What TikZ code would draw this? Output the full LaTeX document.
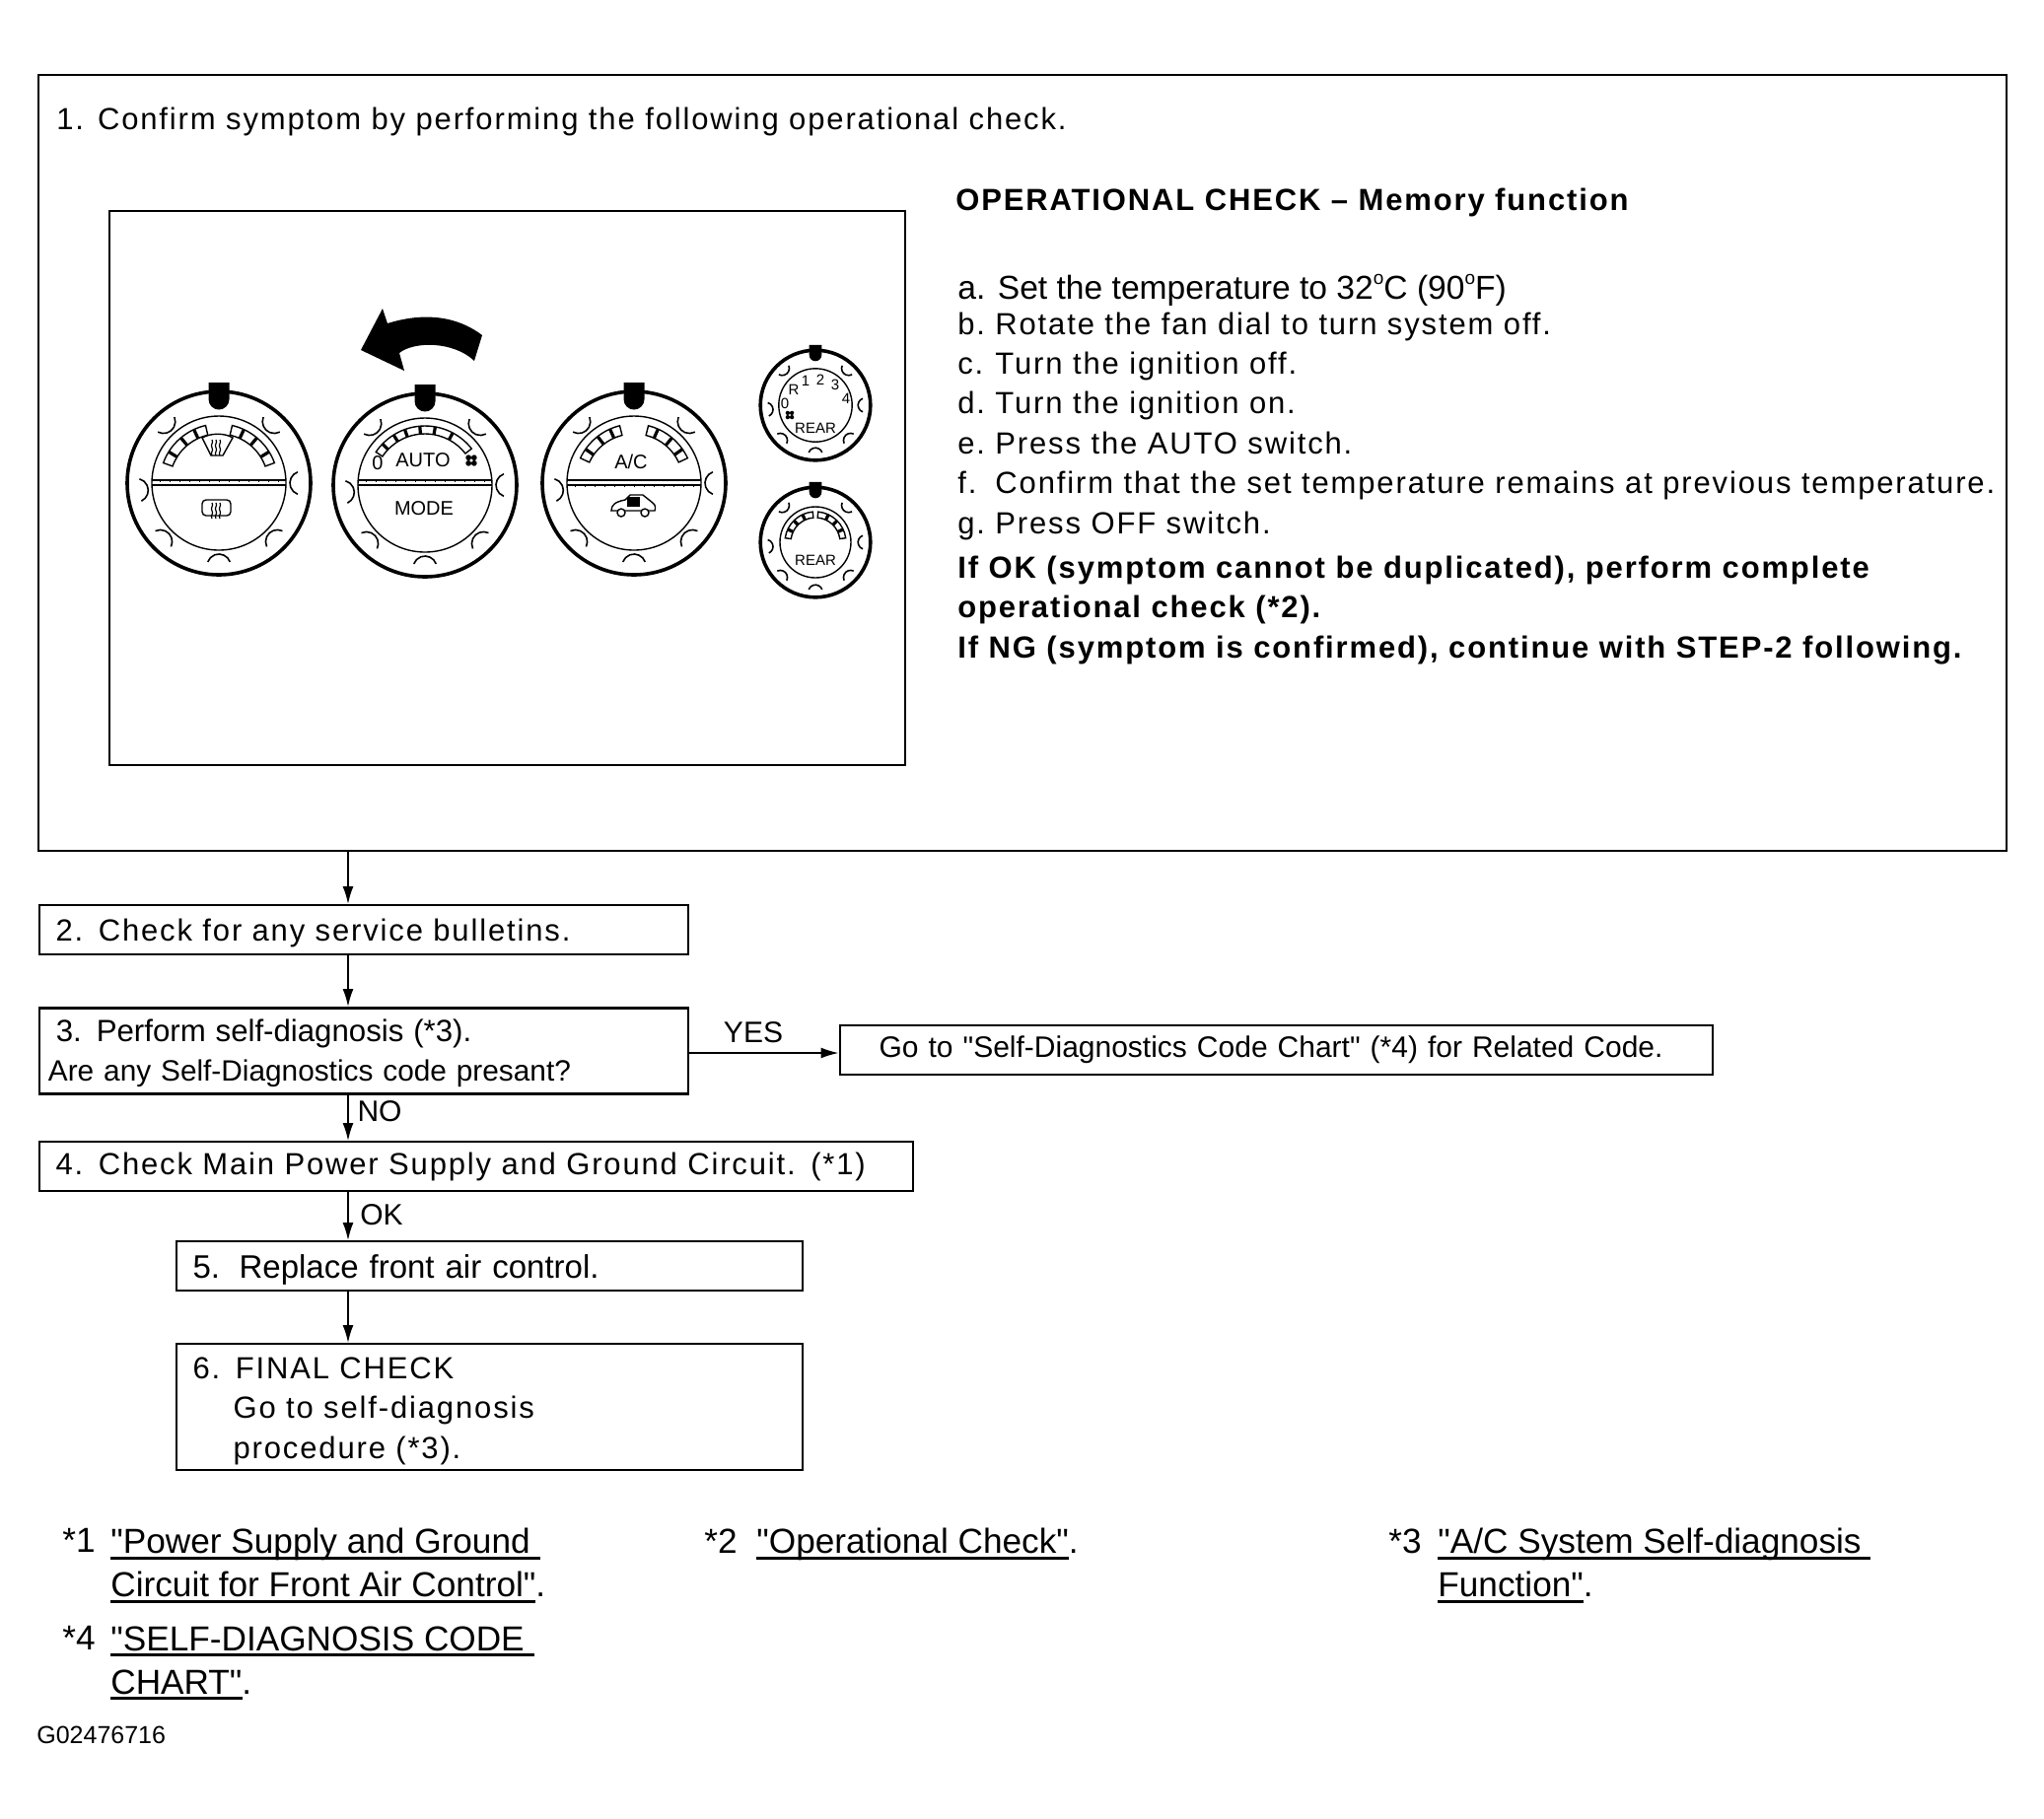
\documentclass[tikz,border=0pt]{standalone}
\usepackage{fontspec}
\setmainfont[Ligatures=TeXOff]{Liberation Sans}
\newfontfamily\widefont[LetterSpace=6]{Liberation Sans}
\usetikzlibrary{arrows.meta}
\newcommand{\bigtxt}{\fontsize{15.5}{20.2}\widefont}
\newcommand{\tighttxt}{\fontsize{15}{20.2}\selectfont}
\newcommand{\degmark}{\raisebox{.85ex}{\fontsize{9.5}{9.5}\selectfont o}}
\newcommand{\linkline}[1]{\setbox0=\hbox{#1}\rlap{\rule[-3pt]{\wd0}{1.3pt}}\box0}
\newcommand{\dialbody}[2]{%
  \begin{scope}[scale=#1]
    \draw[ring] (0,0) circle (93);
    \draw[face] (0,0) circle (#2);
    \fill (-10.5,102) -- (10.5,102) -- (10.5,85) arc (0:-180:10.5) -- cycle;
    \foreach \ang in {0,48,132,185,225,270,315} {
      \draw[notch] (\ang:84) ++(\ang+110:12) arc (\ang+110:\ang+250:12);
    }
  \end{scope}}
\newcommand{\slotband}[5]{%
  \draw[face,fill=white] (#1:#3) arc (#1:#2:#3) -- (#2:#4) arc (#2:#1:#4) -- cycle;
  \foreach \ang in {#5} {
    \draw[line width=1.6pt] (\ang:#3) -- (\ang:#4);
  }}
\newcommand{\midbar}[2]{%
  \draw[line width=1.3pt] (-68,#1) -- (68,#1);
  \draw[face] (-68,#2) -- (68,#2);
  \foreach \tk in {-60,-50,...,60} {
    \draw[line width=.3pt] (\tk,#2-1.5) -- (\tk,#2+1.5);
  }}
\newcommand{\heatlines}[2]{%
  \foreach \hx in {-4,0,4} {
    \draw[line width=.6pt] (#1+\hx,#2) .. controls (#1+\hx+2,#2-3) and (#1+\hx-2,#2-5) .. (#1+\hx,#2-8)
      .. controls (#1+\hx+2,#2-11) and (#1+\hx-2,#2-13) .. (#1+\hx,#2-16);
  }}
\newcommand{\fanmark}[3]{%
  \foreach \ang in {45,135,225,315} {
    \fill (#1,#2) ++(\ang:#3) circle (#3*.72);
  }}
\begin{document}
\begin{tikzpicture}[x=.5pt,y=.5pt,
    every node/.style={inner sep=0pt},
    stepbox/.style={draw=black,line width=1.1pt,anchor=north west,inner xsep=8.5pt,align=left,font=\bigtxt},
    lowtxt/.style={text depth=0pt},
    plaintxt/.style={anchor=west,align=left,font=\bigtxt},
    linktxt/.style={anchor=north west,align=left,font=\fontsize{17.6}{22}\selectfont},
    dialtxt/.style={font=\fontsize{10}{12}\selectfont},
    reartxt/.style={font=\fontsize{7.5}{8}\selectfont},
    ring/.style={line width=1.8pt},
    face/.style={line width=.7pt},
    notch/.style={line width=.8pt},
    flow/.style={line width=.8pt,-{Latex[length=9pt,width=5.5pt]}}]
  \useasboundingbox (0,0) rectangle (2073,-1844);
  \fill[white] (0,0) rectangle (2073,-1844);
  \coordinate (trunk) at (353,0);
  \coordinate (yesline) at (0,-1068);

  % top panel
  \node[stepbox,minimum width=998pt,minimum height=393.5pt,inner sep=0pt] (checkpanel) at (38,-75) {};
  \node[plaintxt] (confirmtxt) at (57,-123) {1. Confirm symptom by performing the following operational check.};
  \node[draw=black,line width=.8pt,anchor=north west,minimum width=403.5pt,minimum height=281pt] (dialframe) at (110,-213) {};
  \node[plaintxt,font=\fontsize{15.5}{20}\widefont\bfseries] (opertitle) at (969,-205) {OPERATIONAL CHECK – Memory function};
  \node[plaintxt,font=\fontsize{16.8}{20}\selectfont] (stepa) at (971,-294) {a. Set the temperature to 32\degmark C (90\degmark F)};
  \node[plaintxt] (stepsrest) at (971,-432)
    {\makebox[19pt][l]{b.}Rotate the fan dial to turn system off.\\
     \makebox[19pt][l]{c.}Turn the ignition off.\\
     \makebox[19pt][l]{d.}Turn the ignition on.\\
     \makebox[19pt][l]{e.}Press the AUTO switch.\\
     \makebox[19pt][l]{f.}Confirm that the set temperature remains at previous temperature.\\
     \makebox[19pt][l]{g.}Press OFF switch.};
  \node[plaintxt,font=\bigtxt\bfseries] (resulttxt) at (971,-619)
    {If OK (symptom cannot be duplicated), perform complete\\
     operational check (*2).\\
     If NG (symptom is confirmed), continue with STEP-2 following.};

  % dials
  \begin{scope}[shift={(222,-490)}]
    \dialbody{1}{68}
    \slotband{160}{103}{50}{60}{148,130,115}
    \slotband{77}{20}{50}{60}{65,50,32}
    \midbar{-2}{3}
    \draw[face] (-17,46) .. controls (-8,51) and (6,51) .. (14,46) -- (4,28) -- (-8,28) -- cycle;
    \heatlines{-3}{44}
    \draw[face,rounded corners=2pt] (-17,-17) rectangle (12,-33);
    \heatlines{-3}{-20}
  \end{scope}
  \begin{scope}[shift={(431,-492)}]
    \dialbody{1}{68}
    \slotband{146}{38}{52}{60}{136,122,110,95,80,62}
    \midbar{0}{5}
    \node[dialtxt] (zerotxt) at (-48,22) {0};
    \node[dialtxt] (autotxt) at (-2,25) {AUTO};
    \node[dialtxt] (modetxt) at (-1,-24) {MODE};
    \fanmark{47}{25}{4}
  \end{scope}
  \begin{scope}[shift={(643,-490)}]
    \dialbody{1}{68}
    \slotband{155}{104}{50}{60}{145,128,114}
    \slotband{76}{25}{50}{60}{66,50,35}
    \midbar{3}{-2}
    \node[dialtxt] (actxt) at (-3,22) {A/C};
    \begin{scope}[shift={(-1,-22)}]
      \draw[face] (-22,-6) .. controls (-22,0) and (-18,3) .. (-8,5) -- (-3,10) -- (10,10) -- (20,2)
        .. controls (23,0) and (23,-4) .. (22,-6) -- cycle;
      \draw[face,fill=white] (-12,-8) circle (4) (12,-8) circle (4);
      \fill (-6,8) rectangle (7,-2);
    \end{scope}
  \end{scope}
  \begin{scope}[shift={(827,-411)}]
    \dialbody{.6}{62}
    \node[reartxt] (rearr) at (-22,16) {R};
    \foreach \dg/\dx/\dy in {0/-31/2,1/-10/25,2/5/26,3/20/21,4/31/7} {
      \node[reartxt] (rear\dg) at (\dx,\dy) {\dg};
    }
    \fanmark{-26}{-10}{3}
    \node[reartxt] (reartop) at (0,-23) {REAR};
  \end{scope}
  \begin{scope}[shift={(827,-550)}]
    \dialbody{.6}{60}
    \slotband{172}{95}{25}{31}{155,135,115}
    \slotband{85}{8}{25}{31}{65,45,25}
    \node[reartxt] (rearlow) at (0,-18) {REAR};
  \end{scope}
  \fill (388,-313) -- (366,-355) -- (410,-376) -- (405,-358)
    .. controls (420,-346) and (460,-346) .. (481,-366) -- (489,-340)
    .. controls (460,-318) and (425,-318) .. (393,-328) -- cycle;

  % flow boxes
  \node[stepbox,lowtxt,minimum width=329pt,minimum height=25pt,text width=312pt] (bulletinbox) at (38.5,-917) {2. Check for any service bulletins.};
  \node[stepbox,text depth=20.8pt,line width=1.4pt,minimum width=329pt,minimum height=43.5pt,text width=312pt,font=\fontsize{14.9}{20.2}\selectfont] (diagbox) at (38.5,-1021)
    {{\fontsize{15.6}{20.2}\selectfont 3. Perform self-diagnosis (*3).}\\ \hspace*{-4pt}Are any Self-Diagnostics code presant?};
  \node[stepbox,minimum width=442.5pt,minimum height=25pt,text width=425.5pt,font=\tighttxt] (chartbox) at (850.5,-1039)
    {\hspace*{11.5pt}Go to "Self-Diagnostics Code Chart" (*4) for Related Code.};
  \node[stepbox,minimum width=443pt,minimum height=25pt,text width=426pt] (powerbox) at (38.5,-1157) {4. Check Main Power Supply and Ground Circuit. (*1)};
  \node[stepbox,lowtxt,minimum width=317.5pt,minimum height=25pt,text width=300.5pt,font=\fontsize{16.5}{20.2}\selectfont] (replacebox) at (177.5,-1258) {\makebox[23.5pt][l]{5.}Replace front air control.};
  \node[stepbox,text depth=39.6pt,minimum width=317.5pt,minimum height=64pt,text width=300.5pt] (finalbox) at (177.5,-1362)
    {6. FINAL CHECK\\ \hspace*{20.5pt}Go to self-diagnosis\\ \hspace*{20.5pt}procedure (*3).};

  \draw[flow] (checkpanel.south -| trunk) -- (bulletinbox.north -| trunk);
  \draw[flow] (bulletinbox.south -| trunk) -- (diagbox.north -| trunk);
  \draw[flow] (diagbox.east |- yesline) -- (chartbox.west |- yesline);
  \draw[flow] (diagbox.south -| trunk) -- (powerbox.north -| trunk);
  \draw[flow] (powerbox.south -| trunk) -- (replacebox.north -| trunk);
  \draw[flow] (replacebox.south -| trunk) -- (finalbox.north -| trunk);

  \node[plaintxt,font=\tighttxt,anchor=center] (yestxt) at (764,-1047) {YES};
  \node[plaintxt,font=\tighttxt,anchor=center] (notxt) at (385,-1127) {NO};
  \node[plaintxt,font=\tighttxt,anchor=center] (oktxt) at (387,-1232) {OK};

  % footnotes
  \node[linktxt] (starone) at (63,-1550) {*1};
  \node[linktxt] (linkone) at (112,-1550) {\linkline{"Power Supply and Ground\ }\\\linkline{Circuit for Front Air Control"}.};
  \node[linktxt] (startwo) at (714,-1550) {*2};
  \node[linktxt] (linktwo) at (767,-1550) {\linkline{"Operational Check"}.};
  \node[linktxt] (starthree) at (1408,-1550) {*3};
  \node[linktxt] (linkthree) at (1458,-1550) {\linkline{"A/C System Self-diagnosis\ }\\\linkline{Function"}.};
  \node[linktxt] (starfour) at (63,-1649) {*4};
  \node[linktxt] (linkfour) at (112,-1649) {\linkline{"SELF-DIAGNOSIS CODE\ }\\\linkline{CHART"}.};
  \node[plaintxt,font=\fontsize{12.5}{13}\selectfont] (figcode) at (37,-1760) {G02476716};
\end{tikzpicture}
\end{document}
